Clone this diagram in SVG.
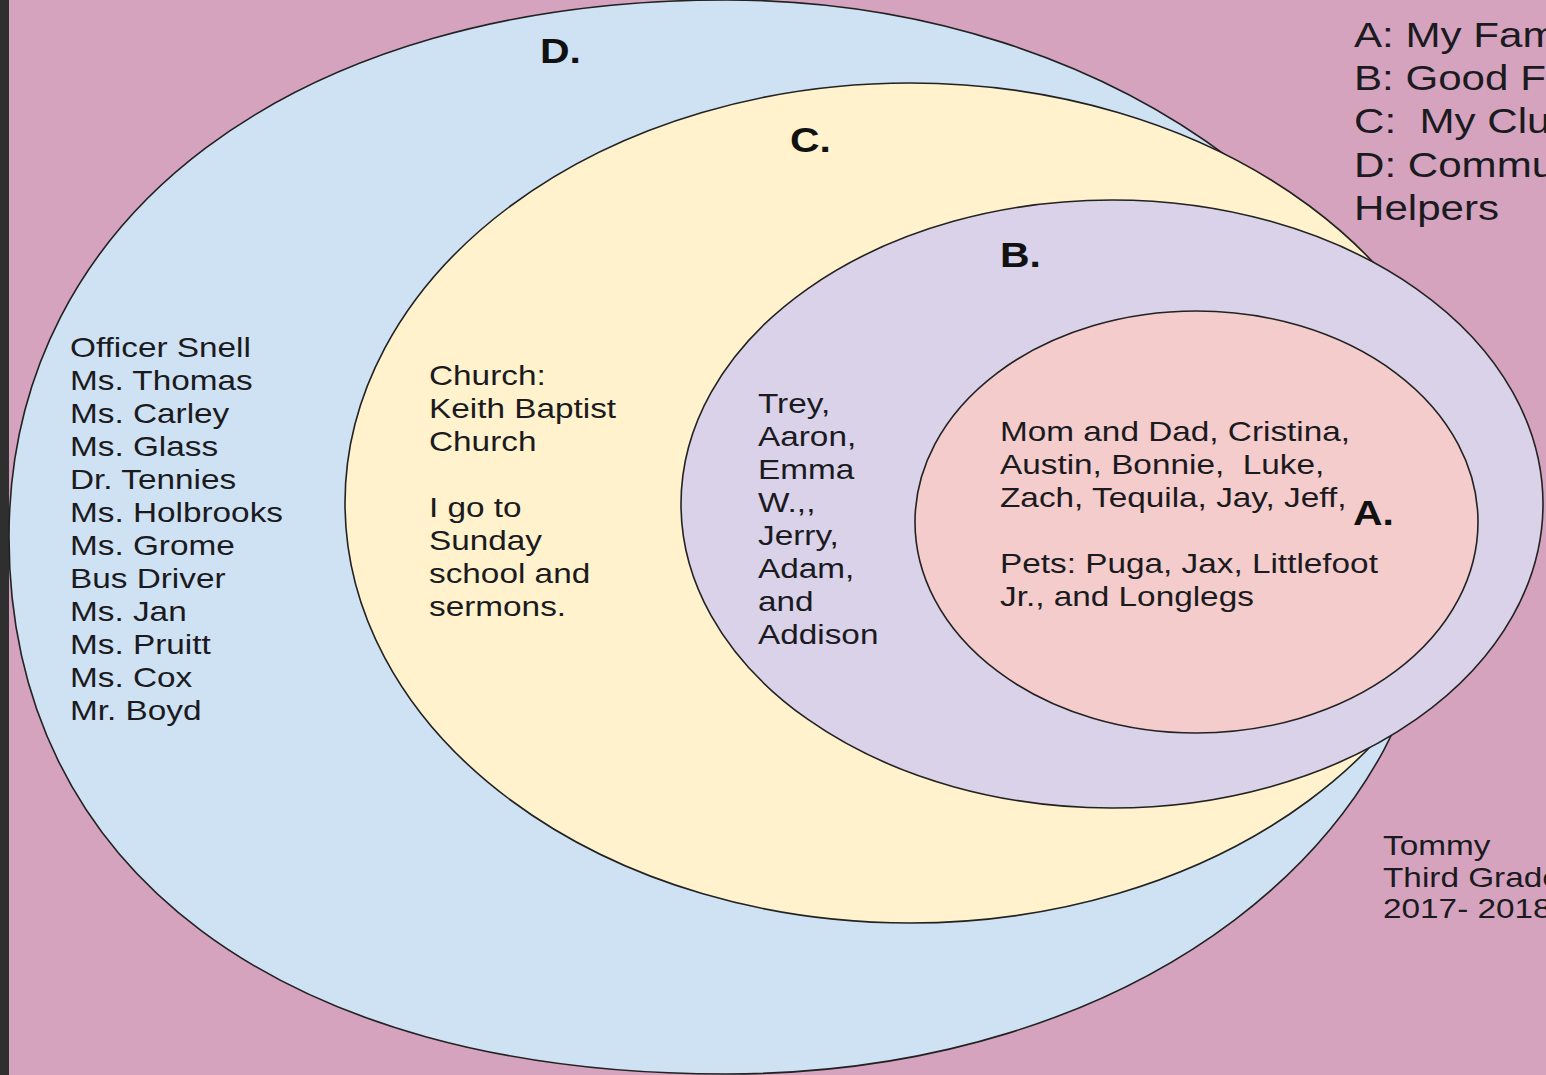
<svg xmlns="http://www.w3.org/2000/svg" width="1546" height="1075" viewBox="0 0 1546 1075">
<style>
.t{font-family:"Liberation Sans",Arial,sans-serif;font-size:28.5px;fill:#1b1b1f}
.lbl{font-family:"Liberation Sans",Arial,sans-serif;font-size:35px;font-weight:bold;fill:#111}
.leg{font-family:"Liberation Sans",Arial,sans-serif;font-size:36px;fill:#1b1b1f}
.ring{stroke:#222;stroke-width:1.6}
</style>
<rect x="0" y="0" width="1546" height="1075" fill="#d6a3bf"/>
<rect x="0" y="0" width="9" height="1075" fill="#2f2f2f"/>
<g id="nodeD">
<path class="ring" fill="#cfe2f3" d="M1438,537 C1438,843.1 1131.8,1074 726,1074 C281.5,1074 9,869.9 9,537 C9,214.8 295.8,0 726,0 C1117.6,0 1438,241.6 1438,537 Z"/>
</g>
<g id="nodeC">
<ellipse class="ring" cx="910" cy="503" rx="565" ry="420" fill="#fff2cc"/>
</g>
<g id="nodeB">
<ellipse class="ring" cx="1112" cy="504" rx="431" ry="304" fill="#d9d2e9"/>
</g>
<g id="nodeA">
<ellipse class="ring" cx="1196.5" cy="522" rx="281.5" ry="211" fill="#f4cccc"/>
</g>
<g id="connectors"></g>
<g id="labels">
<g transform="translate(540,0) scale(1.17,1)"><text class="lbl" x="0" y="63">D.</text></g>
<g transform="translate(790,0) scale(1.17,1)"><text class="lbl" x="0" y="152">C.</text></g>
<g transform="translate(1000,0) scale(1.17,1)"><text class="lbl" x="0" y="267">B.</text></g>
<g transform="translate(1353,0) scale(1.17,1)"><text class="lbl" x="0" y="525">A.</text></g>
</g>
<g id="textD" transform="translate(70,0) scale(1.17,1)">
<text class="t"><tspan x="0" y="357">Officer Snell</tspan><tspan x="0" y="390">Ms. Thomas</tspan><tspan x="0" y="423">Ms. Carley</tspan><tspan x="0" y="456">Ms. Glass</tspan><tspan x="0" y="489">Dr. Tennies</tspan><tspan x="0" y="522">Ms. Holbrooks</tspan><tspan x="0" y="555">Ms. Grome</tspan><tspan x="0" y="588">Bus Driver</tspan><tspan x="0" y="621">Ms. Jan</tspan><tspan x="0" y="654">Ms. Pruitt</tspan><tspan x="0" y="687">Ms. Cox</tspan><tspan x="0" y="720">Mr. Boyd</tspan></text>
</g>
<g id="textC" transform="translate(429,0) scale(1.17,1)">
<text class="t"><tspan x="0" y="385">Church:</tspan><tspan x="0" y="418">Keith Baptist</tspan><tspan x="0" y="451">Church</tspan><tspan x="0" y="517">I go to</tspan><tspan x="0" y="550">Sunday</tspan><tspan x="0" y="583">school and</tspan><tspan x="0" y="616">sermons.</tspan></text>
</g>
<g id="textB" transform="translate(758,0) scale(1.17,1)">
<text class="t"><tspan x="0" y="413">Trey,</tspan><tspan x="0" y="446">Aaron,</tspan><tspan x="0" y="479">Emma</tspan><tspan x="0" y="512">W.,,</tspan><tspan x="0" y="545">Jerry,</tspan><tspan x="0" y="578">Adam,</tspan><tspan x="0" y="611">and</tspan><tspan x="0" y="644">Addison</tspan></text>
</g>
<g id="textA" transform="translate(1000,0) scale(1.17,1)">
<text class="t" xml:space="preserve"><tspan x="0" y="441">Mom and Dad, Cristina,</tspan><tspan x="0" y="474">Austin, Bonnie,  Luke,</tspan><tspan x="0" y="507">Zach, Tequila, Jay, Jeff,</tspan><tspan x="0" y="573">Pets: Puga, Jax, Littlefoot</tspan><tspan x="0" y="606">Jr., and Longlegs</tspan></text>
</g>
<g id="legend" transform="translate(1354,0) scale(1.17,1)">
<text class="leg" xml:space="preserve"><tspan x="0" y="47">A: My Fam</tspan><tspan x="0" y="90">B: Good F</tspan><tspan x="0" y="133">C:  My Clu</tspan><tspan x="0" y="177">D: Commu</tspan><tspan x="0" y="220">Helpers</tspan></text>
</g>
<g id="credit" transform="translate(1383,0) scale(1.17,1)">
<text class="t"><tspan x="0" y="855">Tommy</tspan><tspan x="0" y="887">Third Grade</tspan><tspan x="0" y="918">2017- 2018</tspan></text>
</g>
</svg>
